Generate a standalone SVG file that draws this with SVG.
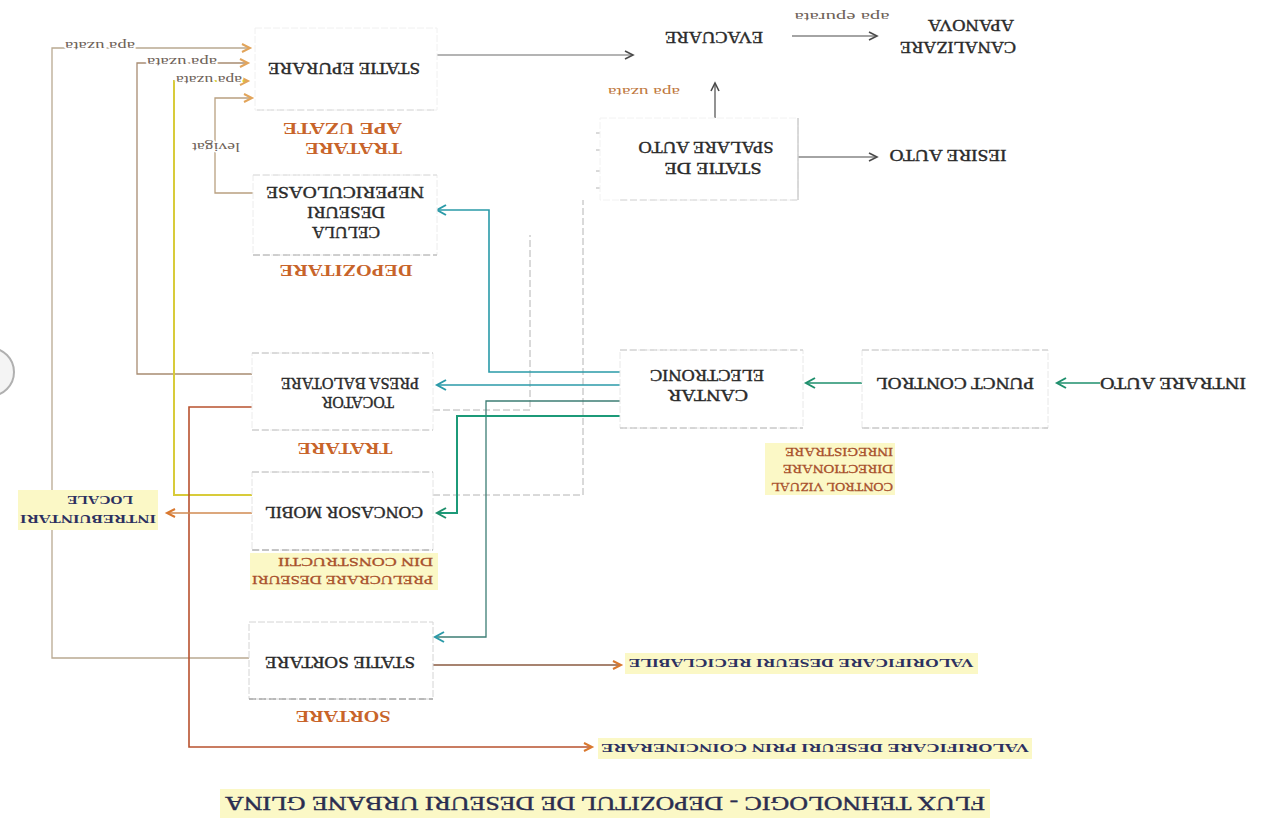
<svg xmlns="http://www.w3.org/2000/svg" width="1285" height="830" viewBox="0 0 1285 830">
  <style>
    text { font-family: "Liberation Serif", "Times New Roman", serif; dominant-baseline: central; }
    .node { font-size: 16.5px; fill: #2a2a2a; stroke: #2a2a2a; stroke-width: 0.4px; }
    .cat { font-size: 16.5px; font-weight: bold; fill: #c8642a; }
    .val { font-size: 13.5px; font-weight: bold; fill: #2c3060; }
    .note { font-size: 13px; fill: #a8502c; stroke: #a8502c; stroke-width: 0.3px; }
    .small { font-size: 12.5px; fill: #6e6258; paint-order: stroke; stroke: #fff; stroke-width: 3px; }
    .title { font-size: 19.5px; fill: #2a2d50; stroke: #2a2d50; stroke-width: 0.4px; }
    .box { fill: #fff; stroke: #d4d4d4; stroke-width: 1; stroke-dasharray: 7 2; }
    .edge { fill: none; stroke: #b4b4b4; stroke-width: 1; stroke-dasharray: 7 3; }
    .hl { fill: #fbf8c6; }
    .c { fill: none; }
  </style>
  <defs>
    <marker id="aGray" markerUnits="userSpaceOnUse" markerWidth="12" markerHeight="12" refX="9" refY="5" orient="auto">
      <path d="M1,1 L9,5 L1,9" fill="none" stroke="#4a4a4a" stroke-width="1.6"/>
    </marker>
    <marker id="aLight" markerUnits="userSpaceOnUse" markerWidth="12" markerHeight="12" refX="9" refY="5" orient="auto">
      <path d="M2,1.5 L9,5 L2,8.5" fill="none" stroke="#a8a8a8" stroke-width="1.4"/>
    </marker>
    <marker id="aOrange" markerUnits="userSpaceOnUse" markerWidth="12" markerHeight="12" refX="9" refY="5" orient="auto">
      <path d="M1,1 L9,5 L1,9" fill="none" stroke="#e2a45a" stroke-width="2"/>
    </marker>
    <marker id="aRust" markerUnits="userSpaceOnUse" markerWidth="12" markerHeight="12" refX="9" refY="5" orient="auto">
      <path d="M1,1 L9,5 L1,9" fill="none" stroke="#d9782e" stroke-width="2"/>
    </marker>
    <marker id="aTeal" markerUnits="userSpaceOnUse" markerWidth="14" markerHeight="14" refX="10" refY="6" orient="auto">
      <path d="M1,1 L10,6 L1,11" fill="none" stroke="#2a9aa8" stroke-width="2"/>
    </marker>
    <marker id="aGreen" markerUnits="userSpaceOnUse" markerWidth="14" markerHeight="14" refX="10" refY="6" orient="auto">
      <path d="M1,1 L10,6 L1,11" fill="none" stroke="#1e8f6c" stroke-width="2"/>
    </marker>
  </defs>

  <rect width="1285" height="830" fill="#ffffff"/>
  <!-- punched hole at the sheet edge -->
  <circle cx="-10" cy="372" r="24" fill="#f4f4f4" stroke="#b0b0b0" stroke-width="2"/>

  <!-- connectors -->
  <g id="connectors">
    <!-- dashed vehicle routes to the washing station -->
    <path class="edge" d="M433,495 H583 V200"/>
    <path class="edge" d="M433,410 H530 V235"/>
    <path class="c" d="M596,133 H614" stroke="#b4b4b4" stroke-dasharray="4 3" marker-end="url(#aLight)"/>
    <path class="c" d="M596,150 H614" stroke="#b4b4b4" stroke-dasharray="4 3" marker-end="url(#aLight)"/>
    <path class="c" d="M596,171 H614" stroke="#b4b4b4" stroke-dasharray="4 3" marker-end="url(#aLight)"/>
    <path class="c" d="M596,188 H614" stroke="#b4b4b4" stroke-dasharray="4 3" marker-end="url(#aLight)"/>

    <!-- waste water return lines -->
    <path class="c" d="M249,658 H52 V48 H250" stroke="#b9a991" stroke-width="1.3" marker-end="url(#aOrange)"/>
    <path class="c" d="M252,374 H137 V63 H248" stroke="#a88c72" stroke-width="1.3" marker-end="url(#aOrange)"/>
    <path class="c" d="M252,495 H174 V81 H248" stroke="#d8cb3a" stroke-width="2" marker-end="url(#aOrange)"/>
    <path class="c" d="M255,193 H215 V98 H252" stroke="#b9a080" stroke-width="1.3" marker-end="url(#aOrange)"/>

    <!-- outputs -->
    <path class="c" d="M253,407 H189 V747 H592" stroke="#b8522e" stroke-width="1.6" marker-end="url(#aRust)"/>
    <path class="c" d="M433,665 H621" stroke="#8a5a40" stroke-width="1.5" marker-end="url(#aRust)"/>
    <path class="c" d="M252,513 H167" stroke="#d08a50" stroke-width="1.6" marker-end="url(#aRust)"/>

    <!-- weighbridge dispatch -->
    <path class="c" d="M620,372 H489 V210 H437" stroke="#2a9aa8" stroke-width="1.6" marker-end="url(#aTeal)"/>
    <path class="c" d="M620,385 H437" stroke="#2a9aa8" stroke-width="1.6" marker-end="url(#aTeal)"/>
    <path class="c" d="M620,401 H486 V637 H435" stroke="#3c7d74" stroke-width="1.3" marker-end="url(#aTeal)"/>
    <path class="c" d="M620,416 H457 V513 H437" stroke="#1c9a78" stroke-width="2" marker-end="url(#aGreen)"/>

    <!-- entry -->
    <path class="c" d="M1100,383 H1057" stroke="#1e8f6c" stroke-width="1.6" marker-end="url(#aGreen)"/>
    <path class="c" d="M862,383 H806" stroke="#1e8f6c" stroke-width="1.6" marker-end="url(#aGreen)"/>

    <!-- treated water / exit -->
    <path class="c" d="M437,55 H633" stroke="#6a6a6a" stroke-width="1.1" marker-end="url(#aGray)"/>
    <path class="c" d="M792,36 H877" stroke="#4a4a4a" stroke-width="1.1" marker-end="url(#aGray)"/>
    <path class="c" d="M715,122 V83" stroke="#4a4a4a" stroke-width="1.2" marker-end="url(#aGray)"/>
    <path class="c" d="M798,157 H877" stroke="#4a4a4a" stroke-width="1.1" marker-end="url(#aGray)"/>

    <!-- connector labels -->
    <text class="small" x="100" y="46" transform="rotate(180 100 46)" text-anchor="middle" textLength="70" lengthAdjust="spacingAndGlyphs">apa uzata</text>
    <text class="small" x="182" y="62" transform="rotate(180 182 62)" text-anchor="middle" textLength="70" lengthAdjust="spacingAndGlyphs">apa uzata</text>
    <text class="small" x="209" y="80" transform="rotate(180 209 80)" text-anchor="middle" textLength="66" lengthAdjust="spacingAndGlyphs">apa uzata</text>
    <text class="small" x="216" y="147" transform="rotate(180 216 147)" text-anchor="middle" textLength="48" lengthAdjust="spacingAndGlyphs">levigat</text>
    <text class="small" x="644" y="92" transform="rotate(180 644 92)" text-anchor="middle" textLength="72" lengthAdjust="spacingAndGlyphs" style="fill:#c0783e">apa uzata</text>
    <text class="small" x="842" y="17" transform="rotate(180 842 17)" text-anchor="middle" textLength="95" lengthAdjust="spacingAndGlyphs">apa epurata</text>
  </g>

  <!-- nodes -->
  <g id="statie-epurare">
    <rect class="box" x="255" y="28" width="182" height="82" style="stroke:#f0f0f0"/>
    <path class="edge" d="M257,110 H437" style="stroke:#d8d8d8"/>
    <text class="node" x="344" y="68" transform="rotate(180 344 68)" text-anchor="middle" textLength="152" lengthAdjust="spacingAndGlyphs">STATIE EPURARE</text>
    <text class="cat" x="402" y="128" transform="rotate(180 402 128)" text-anchor="start" textLength="119" lengthAdjust="spacingAndGlyphs">APE UZATE</text>
    <text class="cat" x="402" y="148" transform="rotate(180 402 148)" text-anchor="start" textLength="97" lengthAdjust="spacingAndGlyphs">TRATARE</text>
  </g>

  <g id="celula-deseuri">
    <rect class="box" x="253" y="175" width="184" height="80" style="stroke:#ececec"/>
    <path class="edge" d="M253,175 H437" style="stroke:#dcdcdc"/>
    <path class="edge" d="M253,255 H437" style="stroke:#a8a8a8"/>
    <text class="node" x="345" y="192" transform="rotate(180 345 192)" text-anchor="middle" textLength="158" lengthAdjust="spacingAndGlyphs">NEPERICULOASE</text>
    <text class="node" x="346" y="212" transform="rotate(180 346 212)" text-anchor="middle" textLength="78" lengthAdjust="spacingAndGlyphs">DESEURI</text>
    <text class="node" x="346" y="232" transform="rotate(180 346 232)" text-anchor="middle" textLength="68" lengthAdjust="spacingAndGlyphs">CELULA</text>
    <text class="cat" x="346" y="270" transform="rotate(180 346 270)" text-anchor="middle" textLength="133" lengthAdjust="spacingAndGlyphs">DEPOZITARE</text>
  </g>

  <g id="tocator-presa">
    <rect class="box" x="252" y="353" width="181" height="77" style="stroke:#ececec"/>
    <path class="edge" d="M252,353 H433" style="stroke:#c0c0c0"/>
    <path class="edge" d="M252,430 H433" style="stroke:#c0c0c0"/>
    <text class="node" x="350" y="383" transform="rotate(180 350 383)" text-anchor="middle" textLength="138" lengthAdjust="spacingAndGlyphs">PRESA BALOTARE</text>
    <text class="node" x="358" y="402" transform="rotate(180 358 402)" text-anchor="middle" textLength="72" lengthAdjust="spacingAndGlyphs">TOCATOR</text>
    <text class="cat" x="345" y="448" transform="rotate(180 345 448)" text-anchor="middle" textLength="95" lengthAdjust="spacingAndGlyphs">TRATARE</text>
  </g>

  <g id="concasor-mobil">
    <rect class="box" x="252" y="472" width="181" height="78" style="stroke:#e4e4e4"/>
    <path class="edge" d="M252,472 H433" style="stroke:#c0c0c0"/>
    <path class="edge" d="M252,550 H433" style="stroke:#989898"/>
    <text class="node" x="344" y="512" transform="rotate(180 344 512)" text-anchor="middle" textLength="158" lengthAdjust="spacingAndGlyphs">CONCASOR MOBIL</text>
    <rect class="hl" x="250" y="553" width="188" height="37"/>
    <text class="note" x="433" y="562" transform="rotate(180 433 562)" text-anchor="start" textLength="155" lengthAdjust="spacingAndGlyphs">DIN CONSTRUCTII</text>
    <text class="note" x="433" y="580" transform="rotate(180 433 580)" text-anchor="start" textLength="181" lengthAdjust="spacingAndGlyphs">PRELUCRARE DESEURI</text>
  </g>

  <g id="statie-sortare">
    <rect class="box" x="249" y="622" width="184" height="77"/>
    <path class="edge" d="M249,699 H433" style="stroke:#888888"/>
    <text class="node" x="340" y="662" transform="rotate(180 340 662)" text-anchor="middle" textLength="150" lengthAdjust="spacingAndGlyphs">STATIE SORTARE</text>
    <text class="cat" x="343" y="716" transform="rotate(180 343 716)" text-anchor="middle" textLength="95" lengthAdjust="spacingAndGlyphs">SORTARE</text>
  </g>

  <g id="cantar-electronic">
    <rect class="box" x="620" y="350" width="183" height="78" style="stroke:#e8e8e8"/>
    <path class="edge" d="M620,350 H803" style="stroke:#c8c8c8"/>
    <path class="edge" d="M620,428 H803" style="stroke:#b8b8b8"/>
    <text class="node" x="707" y="375" transform="rotate(180 707 375)" text-anchor="middle" textLength="114" lengthAdjust="spacingAndGlyphs">ELECTRONIC</text>
    <text class="node" x="708" y="395" transform="rotate(180 708 395)" text-anchor="middle" textLength="80" lengthAdjust="spacingAndGlyphs">CANTAR</text>
    <rect class="hl" x="765" y="443" width="130" height="52"/>
    <text class="note" x="893" y="452" transform="rotate(180 893 452)" text-anchor="start" textLength="108" lengthAdjust="spacingAndGlyphs">INREGISTRARE</text>
    <text class="note" x="893" y="469" transform="rotate(180 893 469)" text-anchor="start" textLength="110" lengthAdjust="spacingAndGlyphs">DIRECTIONARE</text>
    <text class="note" x="893" y="487" transform="rotate(180 893 487)" text-anchor="start" textLength="122" lengthAdjust="spacingAndGlyphs">CONTROL VIZUAL</text>
  </g>

  <g id="punct-control">
    <rect class="box" x="862" y="350" width="186" height="78" style="stroke:#e8e8e8"/>
    <path class="edge" d="M862,350 H1048" style="stroke:#c8c8c8"/>
    <path class="edge" d="M862,428 H1048" style="stroke:#b8b8b8"/>
    <text class="node" x="955" y="383" transform="rotate(180 955 383)" text-anchor="middle" textLength="158" lengthAdjust="spacingAndGlyphs">PUNCT CONTROL</text>
  </g>

  <g id="intrare-auto">
    <text class="node" x="1173" y="383" transform="rotate(180 1173 383)" text-anchor="middle" textLength="146" lengthAdjust="spacingAndGlyphs">INTRARE AUTO</text>
  </g>

  <g id="statie-spalare">
    <rect class="box" x="600" y="118" width="198" height="82" style="stroke:#f2f2f2"/>
    <path class="c" d="M798,118 V200" stroke="#b8b8b8" stroke-width="1"/>
    <path class="edge" d="M620,200 H798" style="stroke:#d4d4d4"/>
    <text class="node" x="706" y="147" transform="rotate(180 706 147)" text-anchor="middle" textLength="135" lengthAdjust="spacingAndGlyphs">SPALARE AUTO</text>
    <text class="node" x="713" y="168" transform="rotate(180 713 168)" text-anchor="middle" textLength="97" lengthAdjust="spacingAndGlyphs">STATIE DE</text>
  </g>

  <g id="evacuare">
    <text class="node" x="714" y="37" transform="rotate(180 714 37)" text-anchor="middle" textLength="98" lengthAdjust="spacingAndGlyphs">EVACUARE</text>
  </g>

  <g id="canalizare">
    <text class="node" x="1016" y="47" transform="rotate(180 1016 47)" text-anchor="start" textLength="116" lengthAdjust="spacingAndGlyphs">CANALIZARE</text>
    <text class="node" x="1014" y="25" transform="rotate(180 1014 25)" text-anchor="start" textLength="86" lengthAdjust="spacingAndGlyphs">APANOVA</text>
  </g>

  <g id="iesire-auto">
    <text class="node" x="948" y="155" transform="rotate(180 948 155)" text-anchor="middle" textLength="117" lengthAdjust="spacingAndGlyphs">IESIRE AUTO</text>
  </g>

  <g id="intrebuintari-locale">
    <rect class="hl" x="18" y="490" width="140" height="40"/>
    <text class="val" x="100" y="500" transform="rotate(180 100 500)" text-anchor="middle" textLength="66" lengthAdjust="spacingAndGlyphs">LOCALE</text>
    <text class="val" x="88" y="519" transform="rotate(180 88 519)" text-anchor="middle" textLength="136" lengthAdjust="spacingAndGlyphs">INTREBUINTARI</text>
  </g>

  <g id="valorificare-reciclabile">
    <rect class="hl" x="625" y="653" width="353" height="21"/>
    <text class="val" x="801" y="663" transform="rotate(180 801 663)" text-anchor="middle" textLength="345" lengthAdjust="spacingAndGlyphs">VALORIFICARE DESEURI RECICLABILE</text>
  </g>

  <g id="valorificare-coincinerare">
    <rect class="hl" x="598" y="738" width="434" height="21"/>
    <text class="val" x="815" y="748" transform="rotate(180 815 748)" text-anchor="middle" textLength="428" lengthAdjust="spacingAndGlyphs">VALORIFICARE DESEURI PRIN COINCINERARE</text>
  </g>

  <g id="titlu">
    <rect class="hl" x="220" y="789" width="770" height="29"/>
    <text class="title" x="605" y="803" transform="rotate(180 605 803)" text-anchor="middle" textLength="760" lengthAdjust="spacingAndGlyphs">FLUX TEHNOLOGIC - DEPOZITUL DE DESEURI URBANE GLINA</text>
  </g>
</svg>
